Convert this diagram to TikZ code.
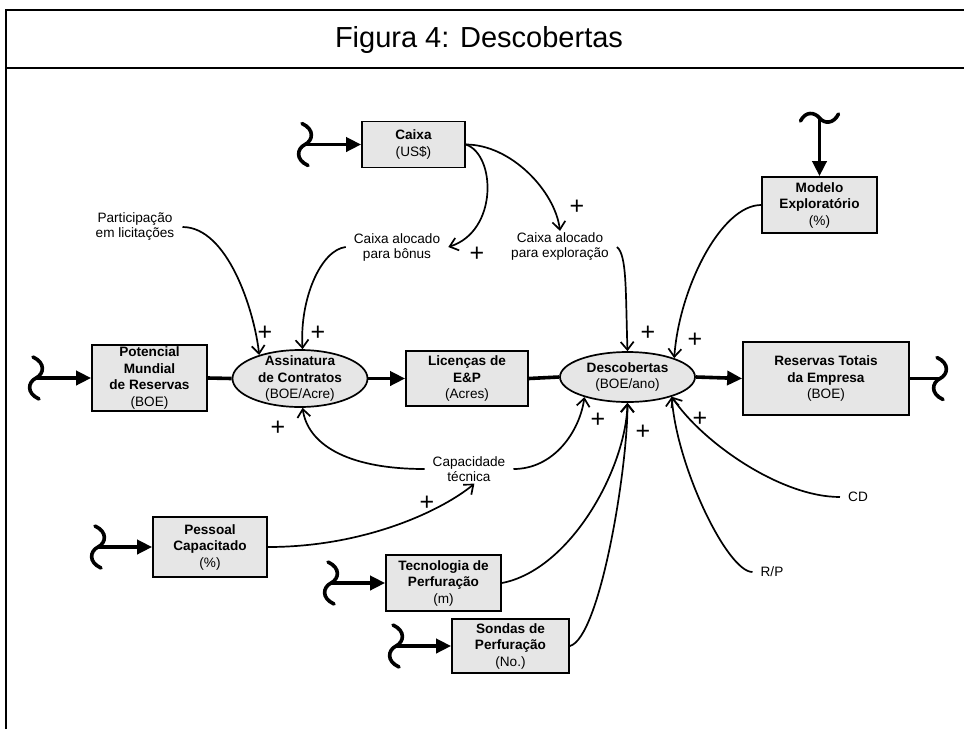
\documentclass[tikz,border=0pt]{standalone}
\usepackage{fontspec}
\setmainfont{Liberation Sans}
\usetikzlibrary{arrows.meta,shapes.geometric}
\definecolor{boxgray}{HTML}{E6E6E6}
\begin{document}
\begin{tikzpicture}[x=1pt,y=-1pt,
  flow/.style={line width=3.6pt},
  flowarrow/.style={flow,-{Triangle[length=15pt,width=14pt]}},
  link/.style={line width=1.7pt,-{Straight Barb[length=8pt,width=13pt]}},
  stock/.style={draw,line width=1.7pt,fill=boxgray,align=center,inner sep=1pt,
    font=\fontsize{13.6}{16.5}\selectfont},
  rate/.style={draw,ellipse,line width=1.7pt,fill=boxgray,inner sep=0pt},
  ratetext/.style={align=center,inner sep=0pt,font=\fontsize{13.6}{16.5}\selectfont},
  aux/.style={align=center,inner xsep=8pt,inner ysep=2pt,font=\fontsize{13.6}{15}\selectfont},
  sign/.style={font=\fontsize{25}{25}\selectfont,inner sep=0pt},
  squig/.style={line width=3.6pt,line cap=round},
  vsrc/.pic={\draw[squig] (-3,-21) .. controls (10,-15) and (8,-4) .. (0,0)
                 .. controls (-8,4) and (-10,15) .. (3,21);},
  hsrc/.pic={\draw[squig] (-19,3) .. controls (-14,-7) and (-5,-6) .. (0,0)
                 .. controls (5,6) and (14,6) .. (19,-4);}
]
\useasboundingbox (0,0) rectangle (964,729);

% frame and title band
\draw[line width=1.8pt] (6,729) -- (6,10) -- (964,10);
\draw[line width=1.8pt] (6,68) -- (964,68);
\node[font=\fontsize{29}{31}\selectfont] (title) at (479,40) {Figura 4: Descobertas};

% stocks and rates
\node[stock,minimum width=103pt,minimum height=46pt] (caixa) at (413.5,144.5) {\textbf{Caixa}\\(US\$)};
\node[stock,minimum width=115pt,minimum height=66pt] (pot) at (149.5,378) {\textbf{Potencial}\\\textbf{Mundial}\\\textbf{de Reservas}\\(BOE)};
\node[rate,minimum width=135pt,minimum height=57pt] (assin) at (300,378.5) {};
\node[ratetext] (assinT) at (assin) {\textbf{Assinatura}\\\textbf{de Contratos}\\(BOE/Acre)};
\node[stock,minimum width=122pt,minimum height=55pt] (lic) at (467,378.5) {\textbf{Licenças de}\\\textbf{E\&P}\\(Acres)};
\node[rate,minimum width=135pt,minimum height=50pt] (desc) at (627.5,377) {};
\node[ratetext] (descT) at (desc) {\textbf{Descobertas}\\(BOE/ano)};
\node[stock,minimum width=166pt,minimum height=73pt] (res) at (826,378.5) {\textbf{Reservas Totais}\\\textbf{da Empresa}\\(BOE)};
\node[stock,minimum width=115pt,minimum height=56pt] (modelo) at (819.5,205) {\textbf{Modelo}\\\textbf{Exploratório}\\(\%)};
\node[stock,minimum width=114pt,minimum height=60pt] (pes) at (210,547) {\textbf{Pessoal}\\\textbf{Capacitado}\\(\%)};
\node[stock,minimum width=115pt,minimum height=56pt] (tec) at (443.5,583) {\textbf{Tecnologia de}\\\textbf{Perfuração}\\(m)};
\node[stock,minimum width=117pt,minimum height=54pt] (son) at (510.5,646) {\textbf{Sondas de}\\\textbf{Perfuração}\\(No.)};

% auxiliary variables
\node[aux] (part) at (135,227) {Participação\\em licitações};
\node[aux] (bonus) at (397,247) {Caixa alocado\\para bônus};
\node[aux] (explor) at (560,247) {Caixa alocado\\para exploração};
\node[aux] (cap) at (469,469) {Capacidade\\técnica};
\node[aux] (cd) at (858,497) {CD};
\node[aux] (rp) at (772,572) {R/P};

% sources and sink
\coordinate (srcCaixa) at (305,144.5);
\coordinate (srcPot) at (36,378);
\coordinate (srcPes) at (98,547);
\coordinate (srcTec) at (331,583);
\coordinate (srcSon) at (396,646);
\coordinate (srcMod) at (819.5,118);
\coordinate (sinkRes) at (940,378.5);
\pic at (srcCaixa) {vsrc};
\pic at (srcPot) {vsrc};
\pic at (srcPes) {vsrc};
\pic at (srcTec) {vsrc};
\pic at (srcSon) {vsrc};
\pic at (sinkRes) {vsrc};
\pic at (srcMod) {hsrc};

% material flows
\draw[flowarrow] (srcCaixa) -- (caixa.west);
\draw[flowarrow] (srcPot) -- (pot.west);
\draw[flowarrow] (srcPes) -- (pes.west);
\draw[flowarrow] (srcTec) -- (tec.west);
\draw[flowarrow] (srcSon) -- (son.west);
\draw[flowarrow] (srcMod) -- (modelo.north);
\draw[flow] (pot.east) -- (assin.west);
\draw[flowarrow] (assin.east) -- (lic.west);
\draw[flow] (lic.east) -- (desc.west);
\draw[flowarrow] (desc.east) -- (res.west);
\draw[flow] (res.east) -- (sinkRes);

% information links
\draw[link] (part.east) .. controls +(45,0) and +(-5,-45) .. (assin.150);
\draw[link] (bonus.west) .. controls +(-25,3) and +(-3,-50) .. (assin.85);
\draw[link] (cap.west) .. controls +(-80,0) and +(5,35) .. (assin.-85);
\draw[link] (caixa.east) .. controls +(30,10) and +(50,-16) .. (bonus.east);
\draw[link] (caixa.east) .. controls +(45,0) and +(-5,-40) .. (explor.north);
\draw[link] (explor.east) .. controls +(10,8) and +(-2,-60) .. (desc.north);
\draw[link] (modelo.west) .. controls +(-40,0) and +(5,-70) .. (desc.22);
\draw[link] (cap.east) .. controls +(40,0) and +(-5,35) .. (desc.205);
\draw[link] (pes.east) .. controls +(100,0) and +(-30,25) .. (cap.-70);
\draw[link] (tec.east) .. controls +(68,-13) and +(-2,67) .. (desc.south);
\draw[link] (son.east) .. controls +(30,-8) and +(0,67) .. (desc.south);
\draw[link] (cd.west) .. controls +(-60,0) and +(30,45) .. (desc.-24);
\draw[link] (rp.west) .. controls +(-25,0) and +(5,70) .. (desc.-24);

% polarities
\node[sign] (s1) at (265,333) {+};
\node[sign] (s2) at (318,333) {+};
\node[sign] (s3) at (278,428) {+};
\node[sign] (s4) at (477,254) {+};
\node[sign] (s5) at (577,207) {+};
\node[sign] (s6) at (648,333) {+};
\node[sign] (s7) at (695,340) {+};
\node[sign] (s8) at (598,420) {+};
\node[sign] (s9) at (643,432) {+};
\node[sign] (s10) at (700,419) {+};
\node[sign] (s11) at (427,503) {+};
\end{tikzpicture}
\end{document}
